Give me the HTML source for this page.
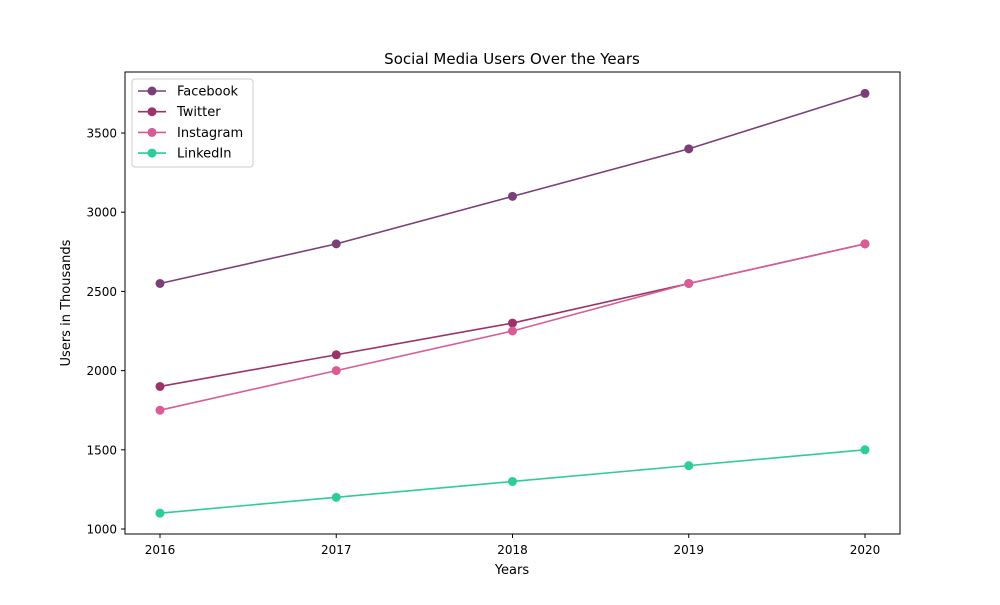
<!DOCTYPE html>
<html><head><meta charset="utf-8"><style>
body{margin:0;background:#fff;font-family:"Liberation Sans","DejaVu Sans",sans-serif;}
svg text{font-family:"DejaVu Sans","Liberation Sans",sans-serif;}
</style></head><body>
<svg id="c" width="1000" height="600" xmlns="http://www.w3.org/2000/svg">
<rect x="0" y="0" width="1000" height="600" fill="#fff"/>
<text x="512" y="64" text-anchor="middle" font-size="15">Social Media Users Over the Years</text>
<g id="axes"></g>
<g id="series"></g>
<rect x="125" y="72" width="775" height="462" fill="none" stroke="#000" stroke-width="1"/>
<text x="512" y="574" text-anchor="middle" font-size="13">Years</text>
<text transform="translate(70,303) rotate(-90)" text-anchor="middle" font-size="13">Users in Thousands</text>
<g id="legend"></g>
</svg>
<script>
const years=[2016,2017,2018,2019,2020];
const yTicks=[1000,1500,2000,2500,3000,3500];
const seriesNames=["Facebook","Twitter","Instagram","LinkedIn"];
const facebook=[2550,2800,3100,3400,3750];
const twitter=[1900,2100,2300,2550,2800];
const instagram=[1750,2000,2250,2550,2800];
const linkedin=[1100,1200,1300,1400,1500];
const colors=["#7b3f78","#9c3368","#d95c96","#2ecc96"];
const NS="http://www.w3.org/2000/svg";
function xs(v){return 160+(v-2016)*(865-160)/4;}
function ys(v){return 529-(v-1000)*(529-133)/2500;}
function mk(t,a,p){const e=document.createElementNS(NS,t);for(const k in a)e.setAttribute(k,a[k]);p.appendChild(e);return e;}
const ax=document.getElementById('axes');
years.forEach(y=>{
 const l=mk('line',{x1:xs(y),x2:xs(y),y1:534,y2:538,stroke:'#000'},ax);
 
 
 const t=mk('text',{x:xs(y),y:554,'text-anchor':'middle','font-size':12},ax);t.textContent=y;
 
 
});
yTicks.forEach(v=>{
 const l=mk('line',{x1:121,x2:125,y1:ys(v),y2:ys(v),stroke:'#000'},ax);
 
 
 const t=mk('text',{x:117,y:ys(v)+4.5,'text-anchor':'end','font-size':12},ax);t.textContent=v;
 
 
});
const data=[facebook,twitter,instagram,linkedin];
const sg=document.getElementById('series');
data.forEach((d,i)=>{
 const g=mk('g',{},sg);
 
 
 mk('polyline',{points:d.map((v,j)=>xs(years[j])+','+ys(v)).join(' '),fill:'none',stroke:colors[i],'stroke-width':1.6},g);
 d.forEach((v,j)=>{
  const c=mk('circle',{cx:xs(years[j]),cy:ys(v),r:4.5,fill:colors[i]},g);
  
  
 });
});
const lg=document.getElementById('legend');


mk('rect',{x:132,y:79,width:121,height:88,rx:3,fill:'#fff','fill-opacity':0.8,stroke:'#ccc'},lg);
seriesNames.forEach((n,i)=>{
 const y=91+i*20.7;
 const g=mk('g',{},lg);
 
 
 mk('line',{x1:138,x2:166,y1:y,y2:y,stroke:colors[i],'stroke-width':1.6},g);
 mk('circle',{cx:152,cy:y,r:4.5,fill:colors[i]},g);
 const t=mk('text',{x:177,y:y+4.5,'font-size':13},g);t.textContent=n;
});
</script>
</body></html>
